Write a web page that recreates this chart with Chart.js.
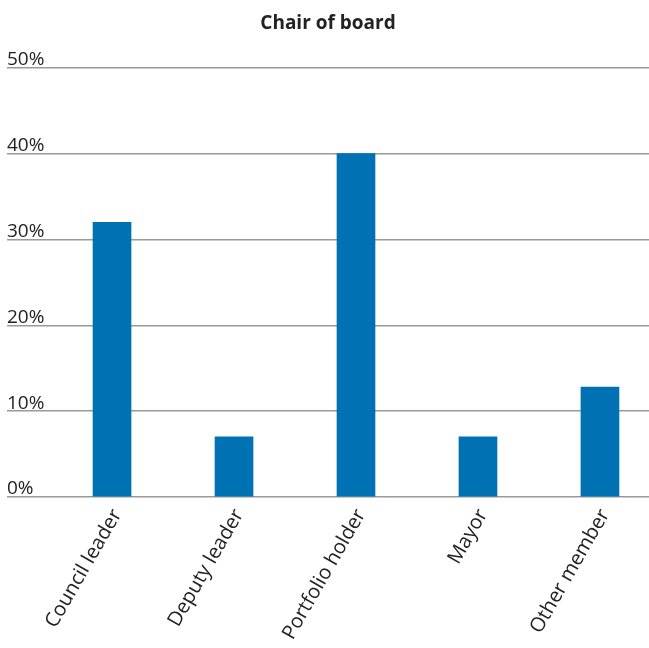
<!DOCTYPE html>
<html lang="en">
<head>
  <meta charset="UTF-8" />
  <title>Chair of board</title>
  <script src="https://cdn.jsdelivr.net/npm/chart.js"></script>
  <style>
    html, body {
      margin: 0;
      padding: 0;
      background: #fff;
      overflow: hidden;
    }
    #wrap {
      width: 649px;
      height: 648px;
    }
  </style>
</head>
<body>
  <div id="wrap"><canvas id="grafico"></canvas></div>

  <script>
    const categorias = ['Council leader', 'Deputy leader', 'Portfolio holder', 'Mayor', 'Other member'];
    const valores = [32, 7, 40, 7, 12.8];
    const ticksY = [0, 10, 20, 30, 40, 50];

    const fonte = '"Open Sans", sans-serif';

    new Chart(document.getElementById('grafico'), {
      type: 'bar',
      data: {
        datasets: [{
          label: 'Chair of board',
          data: valores.map((v, i) => ({ x: i, y: v })),
          backgroundColor: '#0071b2',
          barThickness: 38
        }]
      },
      options: {
        responsive: true,
        maintainAspectRatio: false,
        animation: false,
        layout: { padding: { left: 7, right: 0, top: 0, bottom: 0 } },
        plugins: {
          legend: { display: false },
          tooltip: { enabled: false },
          title: {
            display: true,
            text: 'Chair of board',
            color: '#222',
            font: { family: fonte, size: 19, weight: 'bold', lineHeight: 1.2 },
            padding: { top: 12, bottom: 33 }
          }
        },
        scales: {
          x: {
            type: 'linear',
            offset: false,
            min: -0.861,
            max: 4.402,
            grid: { display: false, offset: false },
            border: { display: false },
            afterBuildTicks: s => { s.ticks = categorias.map((c, i) => ({ value: i })); },
            afterFit: s => { s.height = 151; },
            ticks: {
              color: '#222',
              font: { family: fonte, size: 20 },
              minRotation: 60,
              maxRotation: 60,
              padding: 0,
              labelOffset: 5,
              callback: v => categorias[v]
            }
          },
          y: {
            min: 0,
            max: 50,
            afterBuildTicks: s => { s.ticks = ticksY.map(v => ({ value: v })); },
            grid: { color: '#999', lineWidth: 1.5, drawTicks: false },
            border: { display: false },
            ticks: {
              mirror: true,
              padding: 0,
              labelOffset: -8,
              color: '#222',
              font: { family: fonte, size: 19 },
              callback: v => v + '%'
            }
          }
        }
      }
    });
  </script>
</body>
</html>
